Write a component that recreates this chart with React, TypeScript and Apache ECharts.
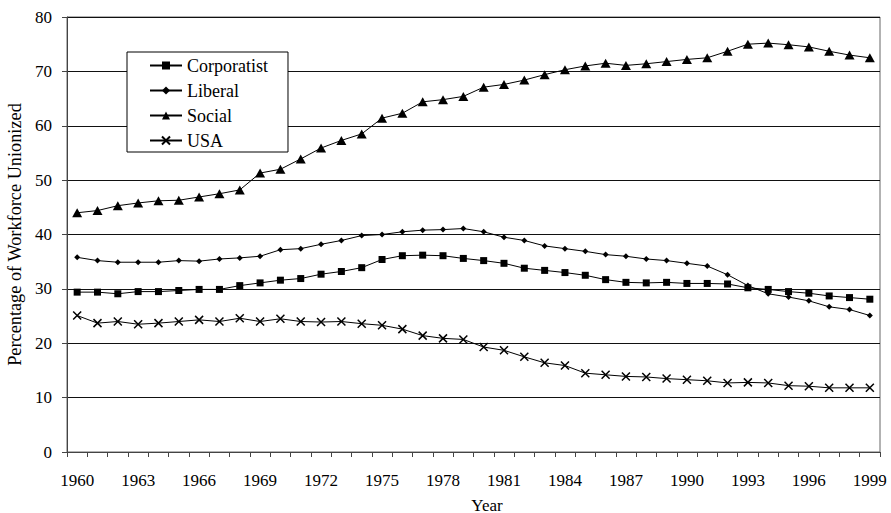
import React, { useEffect, useRef } from "react";
import * as echarts from "echarts";

const years: string[] = [];
for (let y = 1960; y <= 1999; y++) years.push(String(y));

const corporatist = [
  29.4, 29.4, 29.1, 29.5, 29.5, 29.7, 29.9, 29.9, 30.6, 31.1,
  31.6, 31.9, 32.7, 33.2, 33.9, 35.4, 36.1, 36.2, 36.1, 35.6,
  35.2, 34.7, 33.8, 33.4, 33.0, 32.5, 31.7, 31.2, 31.1, 31.2,
  31.0, 31.0, 30.9, 30.2, 29.9, 29.5, 29.2, 28.7, 28.4, 28.1,
];
const liberal = [
  35.8, 35.2, 34.9, 34.9, 34.9, 35.2, 35.1, 35.5, 35.7, 36.0,
  37.2, 37.4, 38.2, 38.9, 39.8, 40.0, 40.5, 40.8, 40.9, 41.1,
  40.5, 39.5, 38.9, 37.9, 37.4, 36.9, 36.3, 36.0, 35.5, 35.2,
  34.7, 34.2, 32.6, 30.6, 29.1, 28.5, 27.8, 26.7, 26.2, 25.1,
];
const social = [
  44.0, 44.4, 45.3, 45.8, 46.2, 46.3, 46.9, 47.5, 48.2, 51.3,
  52.0, 53.9, 55.9, 57.3, 58.5, 61.4, 62.3, 64.4, 64.8, 65.4,
  67.1, 67.6, 68.4, 69.4, 70.3, 71.0, 71.5, 71.1, 71.4, 71.8,
  72.2, 72.5, 73.7, 75.0, 75.2, 74.9, 74.5, 73.7, 73.0, 72.5,
];
const usa = [
  25.1, 23.7, 24.0, 23.5, 23.7, 24.0, 24.3, 24.0, 24.6, 24.0,
  24.5, 24.0, 23.9, 24.0, 23.6, 23.3, 22.6, 21.4, 20.9, 20.7,
  19.3, 18.7, 17.5, 16.4, 15.9, 14.5, 14.2, 13.9, 13.8, 13.5,
  13.3, 13.1, 12.7, 12.8, 12.7, 12.2, 12.1, 11.8, 11.8, 11.8,
];

const FONT = "'Liberation Serif', 'Times New Roman', serif";

export default function App() {
  const ref = useRef<HTMLDivElement>(null);
  useEffect(() => {
    if (!ref.current) return;
    const chart = echarts.init(ref.current, undefined, { renderer: "svg" });
    const lineStyle = { color: "#000", width: 1 };
    chart.setOption({
      animation: false,
      backgroundColor: "#fff",
      textStyle: { fontFamily: FONT, color: "#000" },
      grid: {
        left: 67,
        right: 11,
        top: 17,
        bottom: 61,
        containLabel: false,
        outerBoundsMode: "none",
        show: true,
        borderColor: "#666",
        borderWidth: 1,
      },
      legend: {
        orient: "vertical",
        left: 127,
        top: 52,
        itemWidth: 32,
        itemHeight: 10,
        itemGap: 6,
        padding: [4, 20, 2, 22],
        backgroundColor: "#fff",
        borderColor: "#000",
        borderWidth: 1,
        textStyle: { fontFamily: FONT, fontSize: 18, color: "#000", lineHeight: 19 },
        data: ["Corporatist", "Liberal", "Social", "USA"],
      },
      xAxis: {
        type: "category",
        data: years,
        boundaryGap: true,
        axisLine: { lineStyle: { color: "#444", width: 1 } },
        axisTick: { show: true, interval: 0, length: 5, lineStyle: { color: "#444" } },
        axisLabel: {
          interval: 2,
          margin: 20,
          fontFamily: FONT,
          fontSize: 17,
          color: "#000",
        },
        splitLine: { show: false },
      },
      yAxis: {
        type: "value",
        min: 0,
        max: 80,
        interval: 10,
        name: "Percentage of Workforce Unionized",
        nameLocation: "middle",
        nameGap: 41,
        nameTextStyle: { fontFamily: FONT, fontSize: 18.3, color: "#000" },
        axisLine: { show: true, lineStyle: { color: "#444", width: 1 } },
        axisTick: { show: true, length: 5, lineStyle: { color: "#444" } },
        axisLabel: { margin: 15, fontFamily: FONT, fontSize: 17, color: "#000" },
        splitLine: { show: true, lineStyle: { color: "#111", width: 1 } },
      },
      graphic: [
        {
          type: "text",
          x: 487,
          y: 505,
          style: {
            text: "Year",
            fontFamily: FONT,
            fontSize: 17,
            fill: "#000",
            align: "center",
            verticalAlign: "middle",
          },
        },
      ],
      series: [
        {
          name: "Corporatist",
          type: "line",
          data: corporatist,
          symbol: "rect",
          symbolSize: 7,
          lineStyle,
          itemStyle: { color: "#000" },
        },
        {
          name: "Liberal",
          type: "line",
          data: liberal,
          symbol: "diamond",
          symbolSize: 6,
          lineStyle,
          itemStyle: { color: "#000" },
        },
        {
          name: "Social",
          type: "line",
          data: social,
          symbol: "triangle",
          symbolSize: [10, 9],
          lineStyle,
          itemStyle: { color: "#000" },
        },
        {
          name: "USA",
          type: "line",
          data: usa,
          symbol: "path://M0,0L10,10M10,0L0,10",
          symbolSize: 8,
          lineStyle,
          itemStyle: { color: "#000", borderColor: "#000", borderWidth: 1.5 },
        },
      ],
    });
    return () => chart.dispose();
  }, []);
  return (
    <div
      ref={ref}
      style={{ position: "absolute", left: 0, top: 0, width: 891, height: 513 }}
    />
  );
}
